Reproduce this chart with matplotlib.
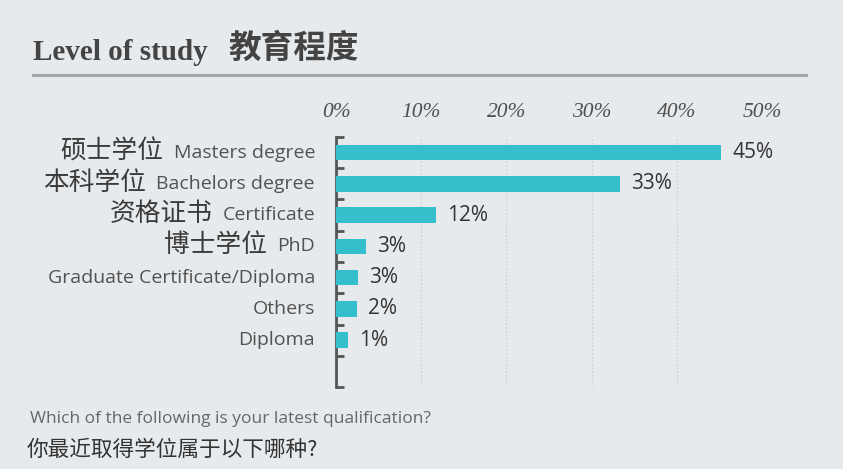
import matplotlib
matplotlib.use("Agg")
import matplotlib.pyplot as plt
from matplotlib.lines import Line2D
from matplotlib.transforms import ScaledTranslation

# ---- data ----
labels_cn = ["硕士学位", "本科学位", "资格证书", "博士学位", "", "", ""]
labels_en = ["Masters degree", "Bachelors degree", "Certificate", "PhD",
             "Graduate Certificate/Diploma", "Others", "Diploma"]
values = [45.2, 33.3, 11.7, 3.5, 2.6, 2.5, 1.4]
value_labels = ["45%", "33%", "12%", "3%", "3%", "2%", "1%"]
xticks = [0, 10, 20, 30, 40, 50]
xtick_labels = ["0%", "10%", "20%", "30%", "40%", "50%"]

W, H = 843, 469
DPI = 100
BG = "#e7eaed"
BAR = "#35bfcd"

fig = plt.figure(figsize=(W / DPI, H / DPI), dpi=DPI, facecolor=BG)

def fx(px):
    return px / W

def fy(py):
    return 1 - py / H

ax = fig.add_axes([fx(336), fy(387), fx(762) - fx(336), fy(137) - fy(387)])
ax.set_facecolor(BG)

n = len(values)
ypos = list(range(n))
ax.barh(ypos, values, height=0.5, color=BAR, zorder=3)
ax.set_xlim(0, 50)
ax.set_ylim(n + 0.5, -0.5)

for s in ["top", "right", "bottom"]:
    ax.spines[s].set_visible(False)
ax.spines["left"].set_color("#555555")
ax.spines["left"].set_linewidth(2)

ax.set_yticks([i - 0.5 for i in range(n + 2)])
ax.set_yticklabels([])
ax.tick_params(axis="y", direction="in", length=6, width=2, color="#555555")

ax.xaxis.tick_top()
ax.set_xticks(xticks)
ax.set_xticklabels(xtick_labels, fontfamily="Liberation Serif", fontstyle="italic",
                   fontsize=15.5, color="#505050")
ax.tick_params(axis="x", length=0, pad=11)
ax.grid(axis="x", linestyle=":", color="#c8cbcf", linewidth=1, zorder=0)

# value labels
for y, v, lab in zip(ypos, values, value_labels):
    ax.annotate(lab, (v, y), xytext=(11, 0), textcoords="offset pixels",
                va="center", ha="left", fontsize=15, color="#333333",
                fontfamily="Open Sans", clip_on=False)

# category labels
fig.canvas.draw()
renderer = fig.canvas.get_renderer()
ytrans = ax.get_yaxis_transform()
en_texts = []
for y, en in zip(ypos, labels_en):
    t = ax.text(0, y, en, transform=ytrans + ScaledTranslation(-21 / DPI, 0, fig.dpi_scale_trans),
                ha="right", va="center", fontsize=14, color="#525252",
                fontfamily="Open Sans")
    en_texts.append(t)
fig.canvas.draw()
for y, cn, t in zip(ypos, labels_cn, en_texts):
    if not cn:
        continue
    bb = t.get_window_extent(renderer)
    xd = bb.x0 - 10
    ax0 = ax.transAxes.inverted().transform((xd, 0))[0]
    ax.text(ax0, y - 0.03, cn, transform=ytrans, ha="right", va="center",
            fontsize=18.5, color="#3a3a3a", fontfamily="Noto Sans CJK SC")

# title
fig.text(fx(33), fy(60), "Level of study", fontfamily="Liberation Serif",
         fontweight="bold", fontsize=21, color="#444444", va="baseline", ha="left")
fig.text(fx(228), fy(48), "教育程度", fontfamily="Noto Sans CJK SC",
         fontweight="bold", fontsize=23.5, color="#444444", va="center", ha="left")
fig.add_artist(Line2D([fx(33), fx(806)], [fy(75), fy(75)], color="#a3a5a8",
                      linewidth=2.2, transform=fig.transFigure))

# footer
fig.text(fx(30), fy(419), "Which of the following is your latest qualification?",
         fontfamily="Open Sans", fontsize=12.5, color="#666666", va="center", ha="left")
fig.text(fx(27), fy(450), "你最近取得学位属于以下哪种?",
         fontfamily=["Noto Sans CJK SC", "DejaVu Sans"], fontsize=15.6,
         color="#333333", va="center", ha="left")

fig.savefig("out.png", dpi=DPI, facecolor=BG)
